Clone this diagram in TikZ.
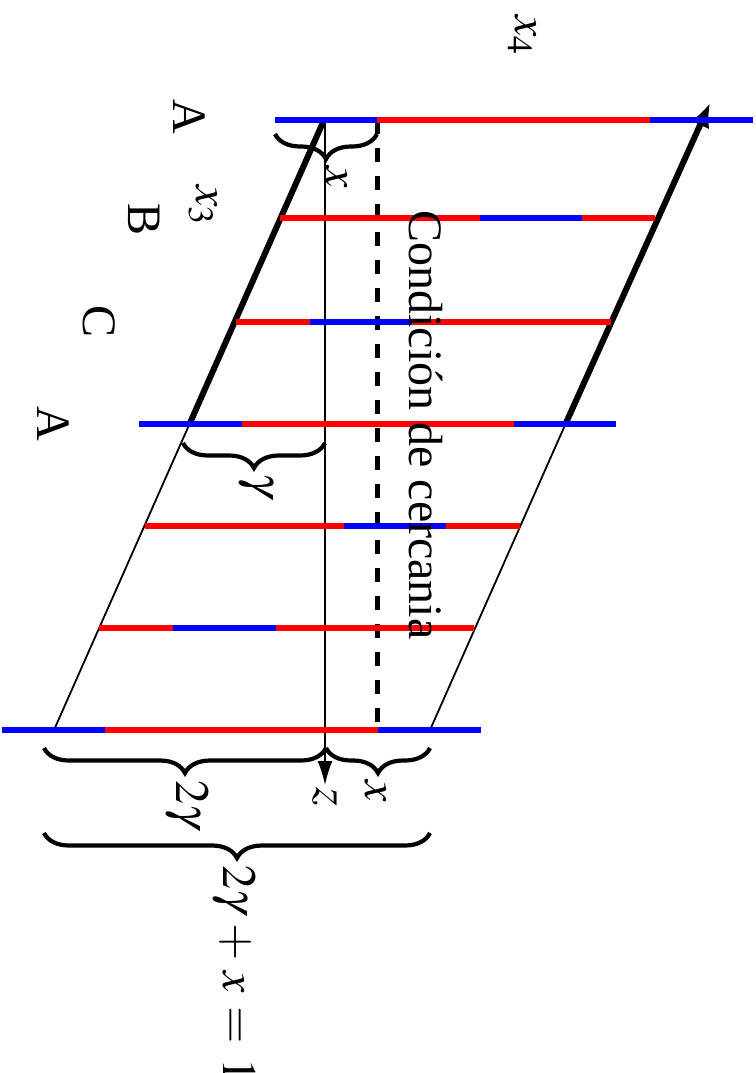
\documentclass[tikz,border=0pt]{standalone}
\usepackage{mathptmx}
\usepackage[no-math]{fontspec}
\setmainfont{Liberation Serif}
\usetikzlibrary{arrows.meta,decorations.pathreplacing}
\begin{document}
\begin{tikzpicture}[x=1pt,y=-1pt,
  lbl/.style={rotate=-90,inner sep=0pt,font=\fontsize{48}{52}\selectfont},
  rs/.style={line width=6.5pt,draw=red},
  bs/.style={line width=6.5pt,draw=blue},
  heavy/.style={line width=6pt},
  light/.style={line width=1.8pt},
  brc/.style={decorate,decoration={brace,amplitude=#1},line width=4.2pt},
  dashline/.style={line width=5pt,dash pattern=on 14pt off 14pt},
]
\useasboundingbox (0,0) rectangle (755,1073);

% key points of the slanted sides
\coordinate (L0) at (324,120);
\coordinate (Lm) at (189.5,424);
\coordinate (L1) at (54,730);
\coordinate (R1) at (430,730);
\coordinate (Rm) at (565.5,424);
\coordinate (R0) at (710,103);
\coordinate (Z0) at (325,120);
\coordinate (Z1) at (325,785);
\coordinate (D0) at (377,120);
\coordinate (D1) at (377,732);

% slanted sides
\draw[heavy] (L0) -- (Lm);
\draw[light] (Lm) -- (L1);
\draw[light] (R1) -- (Rm);
\draw[heavy,-{Latex[length=24pt,width=20pt]}] (Rm) -- (R0);

% axis z
\draw[light,-{Latex[length=24pt,width=15pt]}] (Z0) -- (Z1);

% dashed condition line
\draw[dashline] (D0) -- (D1);

% coloured rows
\draw[bs] (275,120) -- (377,120); \draw[rs] (377,120) -- (650,120); \draw[bs] (650,120) -- (753,120);
\draw[rs] (280,218) -- (480,218); \draw[bs] (480,218) -- (582,218); \draw[rs] (582,218) -- (655,218);
\draw[rs] (236,322) -- (310,322); \draw[bs] (310,322) -- (412,322); \draw[rs] (412,322) -- (611,322);
\draw[bs] (139,424) -- (242,424); \draw[rs] (242,424) -- (514,424); \draw[bs] (514,424) -- (616,424);
\draw[rs] (145,526) -- (344,526); \draw[bs] (344,526) -- (446,526); \draw[rs] (446,526) -- (520,526);
\draw[rs] (99,628) -- (173,628); \draw[bs] (173,628) -- (276,628); \draw[rs] (276,628) -- (474,628);
\draw[bs] (2,730) -- (105,730); \draw[rs] (105,730) -- (378,730); \draw[bs] (378,730) -- (481,730);

% braces
\draw[brc=25pt] (377,134) -- (275,134);
\draw[brc=25pt] (325,443) -- (183,443);
\draw[brc=25pt] (326,748) -- (44,748);
\draw[brc=25pt] (430,748) -- (326,748);
\draw[brc=25pt] (430,833) -- (44,833);

% labels
\node[lbl] (x4) at (522,35) {$x_4$};
\node[lbl] (x3) at (203,205) {$x_3$};
\node[lbl] (A1) at (189,117) {A};
\node[lbl] (B1) at (144,220) {B};
\node[lbl] (C1) at (99,322) {C};
\node[lbl] (A2) at (53,424) {A};
\node[lbl] (cond) at (426,425) {Condición de cercania};
\node[lbl] (xs) at (337,177) {$x$};
\node[lbl] (g) at (256,485) {$\gamma$};
\node[lbl] (g2) at (187,804) {$2\gamma$};
\node[lbl] (zl) at (325,797) {$z$};
\node[lbl] (xb) at (376,791) {$x$};
\node[lbl,anchor=west] (tot) at (234,865) {$2\gamma\mskip1.4mu+\mskip1.4mu x\mskip1.4mu=\mskip1.4mu 1$};
\end{tikzpicture}
\end{document}
